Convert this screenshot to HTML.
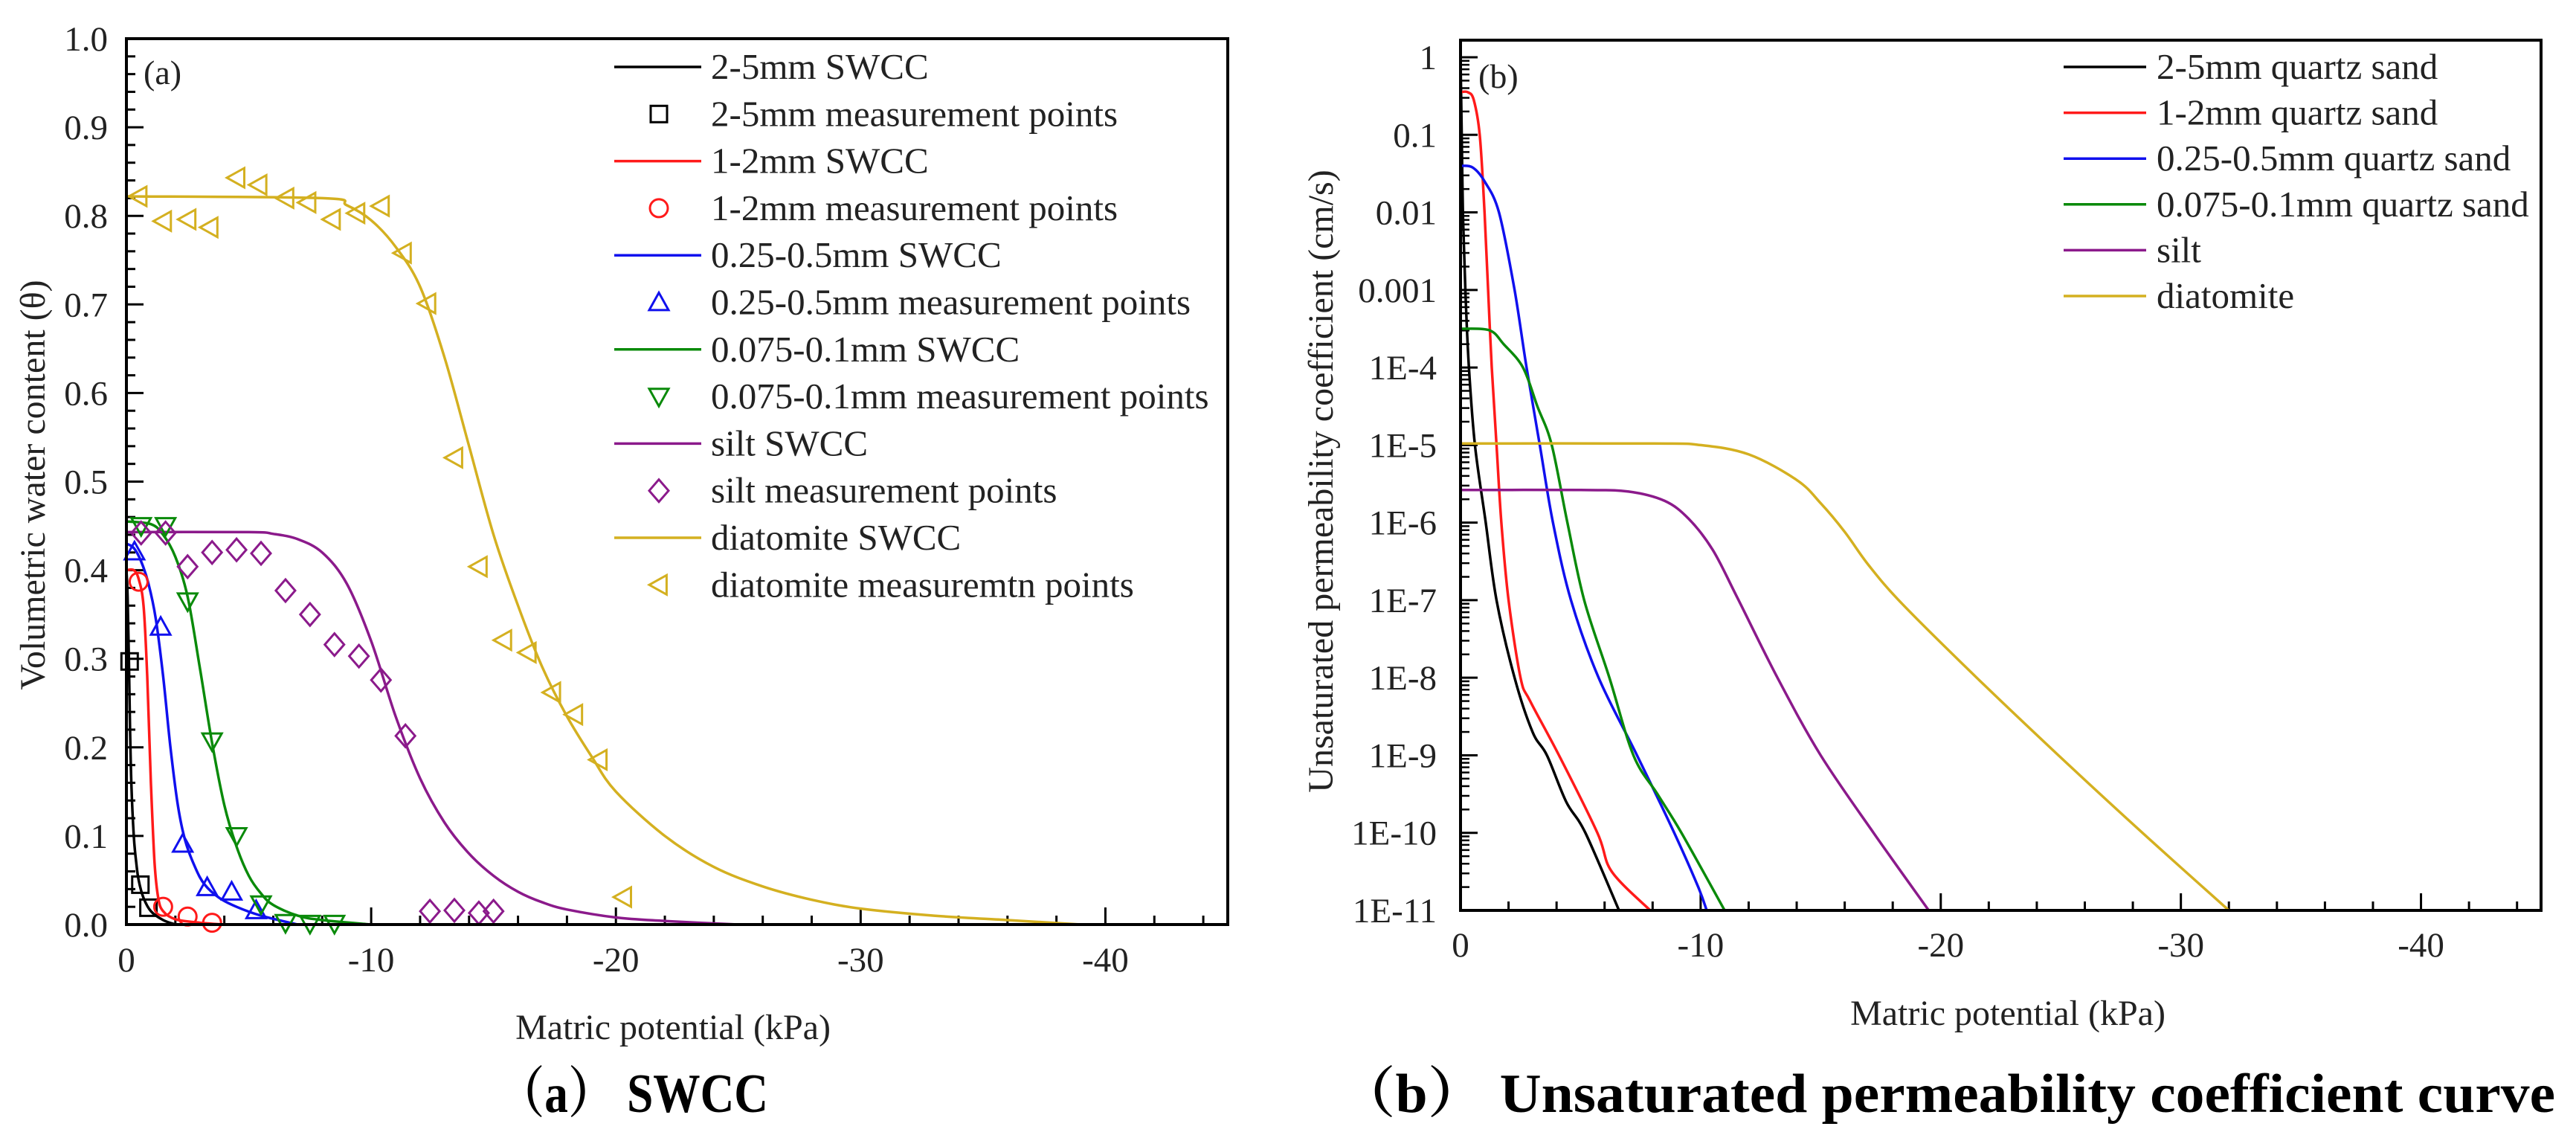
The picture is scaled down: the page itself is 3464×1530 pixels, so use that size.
<!DOCTYPE html>
<html><head><meta charset="utf-8"><style>
html,body{margin:0;padding:0;background:#fff;}
svg{display:block;font-family:"Liberation Serif","Noto Serif CJK SC",serif;}
</style></head><body>
<svg id="fig" width="3464" height="1530" viewBox="0 0 3464 1530" xmlns="http://www.w3.org/2000/svg">
<g id="pa"></g>
<g id="pb"></g>
<text x="669" y="1495" font-size="74" font-weight="bold" textLength="364" lengthAdjust="spacingAndGlyphs">（a） SWCC</text>
<text x="1799" y="1495" font-size="74" font-weight="bold" textLength="1637" lengthAdjust="spacingAndGlyphs">（b） Unsaturated permeability coefficient curve</text>
</svg>
<script>
// ---------- Panel (a) data: suction in kPa (plotted as negative), theta ----------
const swcc25S=[0,0.05,0.1,0.15,0.2,0.3,0.4,0.5,0.7,1,1.5,2];
const swcc25T=[0.40,0.37,0.30,0.22,0.16,0.10,0.07,0.05,0.03,0.015,0.005,0];
const pts25S=[0.13,0.57,0.9];
const pts25T=[0.297,0.045,0.019];
const swcc12S=[0,0.3,0.5,0.7,0.85,1.0,1.15,1.3,1.5,2,3,4];
const swcc12T=[0.40,0.40,0.39,0.36,0.28,0.16,0.07,0.03,0.015,0.006,0.002,0];
const pts12S=[0.5,1.5,2.5,3.5];
const pts12T=[0.387,0.02,0.009,0.002];
const swccQS=[0,0.3,0.6,0.9,1.2,1.5,1.8,2.1,2.4,2.8,3.2,3.8,4.5,5.5,7];
const swccQT=[0.43,0.425,0.41,0.385,0.345,0.28,0.2,0.135,0.095,0.065,0.045,0.03,0.02,0.01,0];
const ptsQS=[0.33,1.4,2.3,3.3,4.3,5.3];
const ptsQT=[0.421,0.336,0.091,0.042,0.037,0.016];
const swccFS=[0,1,1.5,2,2.5,3,3.5,4,4.5,5,5.5,6,7,8,10];
const swccFT=[0.455,0.452,0.44,0.415,0.37,0.29,0.205,0.135,0.088,0.055,0.035,0.022,0.01,0.005,0];
const ptsFS=[0.6,1.6,2.5,3.5,4.5,5.5,6.5,7.5,8.5];
const ptsFT=[0.45,0.45,0.365,0.207,0.1,0.023,0.002,0.001,0.001];
const swccSiS=[0,5,6,7,8,9,10,11,12,13,14,15,16,17,18,20,22,25];
const swccSiT=[0.443,0.443,0.441,0.435,0.42,0.385,0.32,0.235,0.165,0.115,0.08,0.055,0.037,0.025,0.017,0.008,0.004,0];
const ptsSiS=[0.6,1.6,2.5,3.5,4.5,5.5,6.5,7.5,8.5,9.5,10.4,11.4,12.4,13.4,14.4,15];
const ptsSiT=[0.442,0.442,0.404,0.42,0.423,0.419,0.377,0.35,0.316,0.303,0.276,0.213,0.015,0.016,0.013,0.015];
const swccDS=[0,8,9,10,11,12,13,14,15,16,17,18,19,20,22,24,26,28,30,33,36,39];
const swccDT=[0.822,0.82,0.812,0.795,0.765,0.72,0.64,0.54,0.44,0.36,0.29,0.235,0.19,0.15,0.1,0.065,0.043,0.028,0.018,0.01,0.005,0];
const ptsDS=[0.5,1.5,2.5,3.4,4.5,5.4,6.5,7.4,8.4,9.4,10.4,11.3,12.3,13.4,14.4,15.4,16.4,17.4,18.3,19.3,20.3];
const ptsDT=[0.822,0.794,0.796,0.787,0.843,0.835,0.82,0.815,0.796,0.803,0.811,0.758,0.701,0.527,0.404,0.321,0.307,0.262,0.237,0.186,0.031];
const aXTicks=[0,10,20,30,40];
const aXLabels=["0","-10","-20","-30","-40"];
const aYTicks=[0,0.1,0.2,0.3,0.4,0.5,0.6,0.7,0.8,0.9,1.0];
const aYLabels=["0.0","0.1","0.2","0.3","0.4","0.5","0.6","0.7","0.8","0.9","1.0"];
const aLegend=["2-5mm SWCC","2-5mm measurement points","1-2mm SWCC","1-2mm measurement points","0.25-0.5mm SWCC","0.25-0.5mm measurement points","0.075-0.1mm SWCC","0.075-0.1mm measurement points","silt SWCC","silt measurement points","diatomite SWCC","diatomite measuremtn points"];

// ---------- Panel (b) data: suction kPa, log10 K (cm/s) ----------
const k25S=[0,0.05,0.1,0.2,0.35,0.6,1.05,1.5,2.25,3.0,3.6,4.4,5.2,6.6];
const k25L=[0,-1,-2,-3,-4,-5,-6,-7,-8,-8.7,-9,-9.6,-10,-11];
const k12S=[0,0.3,0.55,0.8,1.0,1.15,1.3,1.5,1.7,2.0,2.5,2.9,4.1,5.7,6.3,7.9];
const k12L=[-0.45,-0.45,-0.55,-1,-2,-3,-4,-5,-6,-7,-8,-8.3,-9,-10,-10.5,-11];
const kQS=[0,0.5,1.0,1.6,2.25,2.75,3.3,3.85,4.6,5.75,7.35,8.9,9.9,10.25];
const kQL=[-1.4,-1.42,-1.6,-2,-3,-4,-5,-6,-7,-8,-9,-10,-10.7,-11];
const kFS=[0,1.2,1.8,2.6,3.2,3.8,4.45,5.15,6.2,7.2,8.2,9.2,11];
const kFL=[-3.5,-3.52,-3.7,-4,-4.5,-5,-6,-7,-8,-9,-9.5,-10,-11];
const kSiS=[0,5,7,8.5,9.5,10.5,11.5,13.2,15,17.2,19.5];
const kSiL=[-5.58,-5.58,-5.6,-5.72,-5.95,-6.35,-6.95,-8,-9,-10,-11];
const kDS=[0,8,10,12,14,15,16,17,18.4,21.5,24.9,28.4,32];
const kDL=[-4.98,-4.98,-5.0,-5.12,-5.45,-5.75,-6.12,-6.55,-7.05,-8,-9,-10,-11];
const bXTicks=[0,10,20,30,40];
const bXLabels=["0","-10","-20","-30","-40"];
const bYTicks=[0,-1,-2,-3,-4,-5,-6,-7,-8,-9,-10,-11];
const bYLabels=["1","0.1","0.01","0.001","1E-4","1E-5","1E-6","1E-7","1E-8","1E-9","1E-10","1E-11"];
const bLegend=["2-5mm quartz sand","1-2mm quartz sand","0.25-0.5mm quartz sand","0.075-0.1mm quartz sand","silt","diatomite"];

const COLORS=["#000000","#ff1a1a","#1010ee","#0a8a0a","#8b1a8b","#d4b020"];
const NS="http://www.w3.org/2000/svg";
function mk(tag,attrs,parent){const e=document.createElementNS(NS,tag);for(const k in attrs)e.setAttribute(k,attrs[k]);parent.appendChild(e);return e;}
function smooth(pts){
  if(pts.length<2)return "";
  let d="M"+pts[0][0].toFixed(1)+","+pts[0][1].toFixed(1);
  for(let i=0;i<pts.length-1;i++){
    const p0=pts[i-1]||pts[i],p1=pts[i],p2=pts[i+1],p3=pts[i+2]||p2;
    const c1=[p1[0]+(p2[0]-p0[0])/6,p1[1]+(p2[1]-p0[1])/6];
    const c2=[p2[0]-(p3[0]-p1[0])/6,p2[1]-(p3[1]-p1[1])/6];
    d+=" C"+c1[0].toFixed(1)+","+c1[1].toFixed(1)+" "+c2[0].toFixed(1)+","+c2[1].toFixed(1)+" "+p2[0].toFixed(1)+","+p2[1].toFixed(1);
  }
  return d;
}
function marker(g,shape,cx,cy,col){
  const r=13;let el;
  if(shape==="square")el=mk("rect",{x:cx-11,y:cy-11,width:22,height:22},g);
  else if(shape==="circle")el=mk("circle",{cx:cx,cy:cy,r:12},g);
  else{let p;
    if(shape==="up")p=[[cx,cy-r],[cx+r,cy+r*0.8],[cx-r,cy+r*0.8]];
    else if(shape==="down")p=[[cx,cy+r],[cx+r,cy-r*0.8],[cx-r,cy-r*0.8]];
    else if(shape==="diamond")p=[[cx,cy-r-2],[cx+r,cy],[cx,cy+r+2],[cx-r,cy]];
    else p=[[cx-r,cy],[cx+r*0.8,cy-r],[cx+r*0.8,cy+r]];
    el=mk("polygon",{points:p.map(q=>q.join(",")).join(" ")},g);}
  el.setAttribute("fill","none");el.setAttribute("stroke",col);el.setAttribute("stroke-width","3");
  return el;
}

// ---------- Panel A ----------
(function(){
  const g=document.getElementById("pa");
  const L=170,R=1651,T=52,B=1243;
  const X=s=>L+(R-L)*s/45, Y=t=>B-(B-T)*t/1.0;
  const clip=mk("clipPath",{id:"ca"},g);mk("rect",{x:L,y:T,width:R-L,height:B-T},clip);
  for(let v=0;v<=45;v+=2){const maj=(v%10===0);const t=mk("line",{x1:X(v),x2:X(v),y1:B,y2:B-(maj?23:12),stroke:"#000","stroke-width":3},g);}
  for(let i=0;i<=50;i++){const v=i*0.02;const maj=(i%5===0);const t=mk("line",{x1:L,x2:L+(maj?23:12),y1:Y(v),y2:Y(v),stroke:"#000","stroke-width":3},g);}
  aXTicks.forEach((v,i)=>{const t=mk("text",{x:X(v),y:1306,"font-size":47,"text-anchor":"middle",fill:"#222"},g);t.textContent=aXLabels[i];});
  aYTicks.forEach((v,i)=>{const t=mk("text",{x:145,y:Y(v)+16,"font-size":47,"text-anchor":"end",fill:"#222"},g);t.textContent=aYLabels[i];});
  const xt=mk("text",{x:905,y:1397,"font-size":48,"text-anchor":"middle",fill:"#222"},g);xt.textContent="Matric potential (kPa)";
  
  const yt=mk("text",{x:0,y:0,"font-size":48,"text-anchor":"middle",fill:"#222",transform:"translate(60,652) rotate(-90)"},g);yt.textContent="Volumetric water content (θ)";
  
  const lab=mk("text",{x:193,y:113,"font-size":46,fill:"#222"},g);lab.textContent="(a)";
  
  const curves=[[swcc25S,swcc25T],[swcc12S,swcc12T],[swccQS,swccQT],[swccFS,swccFT],[swccSiS,swccSiT],[swccDS,swccDT]];
  const pts=[[pts25S,pts25T],[pts12S,pts12T],[ptsQS,ptsQT],[ptsFS,ptsFT],[ptsSiS,ptsSiT],[ptsDS,ptsDT]];
  const shapes=["square","circle","up","down","diamond","left"];
  const names=["2-5mm","1-2mm","0.25-0.5mm","0.075-0.1mm","silt","diatomite"];
  const cg=mk("g",{"clip-path":"url(#ca)"},g);
  curves.forEach((c,i)=>{const p=mk("path",{d:smooth(c[0].map((s,j)=>[X(s),Y(c[1][j])])),fill:"none",stroke:COLORS[i],"stroke-width":3.5},cg);
    });
  pts.forEach((c,i)=>{c[0].forEach((s,j)=>{const m=marker(g,shapes[i],X(s),Y(c[1][j]),COLORS[i]);
    });});
  mk("rect",{x:L,y:T,width:R-L,height:B-T,fill:"none",stroke:"#000","stroke-width":4},g);
  aLegend.forEach((txt,i)=>{const y=90+i*63.3;const k=Math.floor(i/2);
    if(i%2===0){const l=mk("line",{x1:826,x2:943,y1:y,y2:y,stroke:COLORS[k],"stroke-width":3.5},g);}
    else{const m=marker(g,shapes[k],886,y,COLORS[k]);}
    const t=mk("text",{x:956,y:y+16,"font-size":49,fill:"#222"},g);t.textContent=txt;});
})();

// ---------- Panel B ----------
(function(){
  const g=document.getElementById("pb");
  const L=1964,R=3417,T=54,B=1224,top0=77;
  const X=s=>L+(R-L)*s/45, Y=l=>top0+(B-top0)*(-l)/11;
  const clip=mk("clipPath",{id:"cb"},g);mk("rect",{x:L,y:T,width:R-L,height:B-T},clip);
  for(let v=0;v<=45;v+=2){const maj=(v%10===0);const t=mk("line",{x1:X(v),x2:X(v),y1:B,y2:B-(maj?23:12),stroke:"#000","stroke-width":3},g);}
  for(let d=-11;d<=0;d++){const t=mk("line",{x1:L,x2:L+23,y1:Y(d),y2:Y(d),stroke:"#000","stroke-width":3},g);
    for(let m=2;m<=9;m++){const lv=d+Math.log10(m);if(lv>0.22)continue;const mt=mk("line",{x1:L,x2:L+12,y1:Y(lv),y2:Y(lv),stroke:"#000","stroke-width":2.5},g);}}
  bXTicks.forEach((v,i)=>{const t=mk("text",{x:X(v),y:1286,"font-size":47,"text-anchor":"middle",fill:"#222"},g);t.textContent=bXLabels[i];});
  bYTicks.forEach((v,i)=>{const t=mk("text",{x:1932,y:Y(v)+16,"font-size":47,"text-anchor":"end",fill:"#222"},g);t.textContent=bYLabels[i];});
  const xt=mk("text",{x:2700,y:1378,"font-size":48,"text-anchor":"middle",fill:"#222"},g);xt.textContent="Matric potential (kPa)";
  
  const yt=mk("text",{x:0,y:0,"font-size":48,"text-anchor":"middle",fill:"#222",transform:"translate(1792,647) rotate(-90)"},g);yt.textContent="Unsaturated permeability coefficient (cm/s)";
  
  const lab=mk("text",{x:1988,y:118,"font-size":46,fill:"#222"},g);lab.textContent="(b)";
  
  const curves=[[k25S,k25L],[k12S,k12L],[kQS,kQL],[kFS,kFL],[kSiS,kSiL],[kDS,kDL]];
  const names=["2-5mm","1-2mm","0.25-0.5mm","0.075-0.1mm","silt","diatomite"];
  const cg=mk("g",{"clip-path":"url(#cb)"},g);
  curves.forEach((c,i)=>{const p=mk("path",{d:smooth(c[0].map((s,j)=>[X(s),Y(c[1][j])])),fill:"none",stroke:COLORS[i],"stroke-width":3.5},cg);
    });
  mk("rect",{x:L,y:T,width:R-L,height:B-T,fill:"none",stroke:"#000","stroke-width":4},g);
  bLegend.forEach((txt,i)=>{const y=90+i*61.6;
    const l=mk("line",{x1:2775,x2:2886,y1:y,y2:y,stroke:COLORS[i],"stroke-width":3.5},g);
    const t=mk("text",{x:2900,y:y+16,"font-size":49,fill:"#222"},g);t.textContent=txt;});
})();
</script>
</body></html>
